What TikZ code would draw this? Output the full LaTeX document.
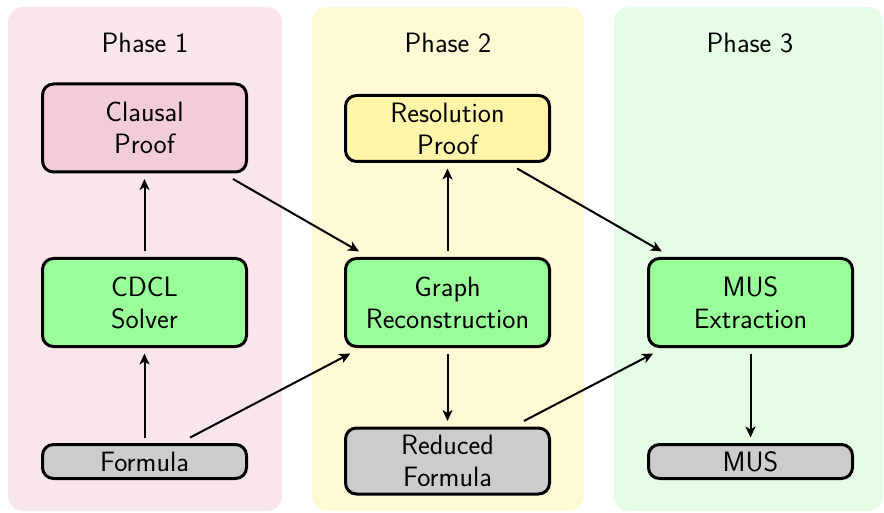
\documentclass[tikz,border=0pt]{standalone}
\usepackage{fontspec}
\usetikzlibrary{arrows.meta}

\definecolor{phaseA}{HTML}{F9E6EC}
\definecolor{phaseB}{HTML}{FFFAD6}
\definecolor{phaseC}{HTML}{E5FDE5}
\definecolor{proofA}{HTML}{F2CCD9}
\definecolor{proofB}{HTML}{FFF6AA}
\definecolor{stepfill}{HTML}{99FF99}
\definecolor{datafill}{HTML}{CCCCCC}

\tikzset{
  panel/.style={rounded corners=15pt, draw=none},
  title/.style={font=\sffamily\fontsize{28}{32}\selectfont},
  box/.style={draw=black, line width=3pt, rounded corners=11pt,
    minimum width=204pt, align=center, inner sep=0pt, outer sep=7pt,
    font=\sffamily\fontsize{28}{32}\selectfont},
  tallbox/.style={box, minimum height=88pt},
  midbox/.style={box, minimum height=66pt},
  flatbox/.style={box, minimum height=34pt},
  flow/.style={line width=2pt, -{Stealth[length=11pt, width=10pt, inset=3pt]}}
}

\begin{document}
\begin{tikzpicture}[x=1pt, y=-1pt]
  \useasboundingbox (0,0) rectangle (884,513);

  % phase panels
  \fill[panel, phaseA] (8,7) rectangle (282,511);
  \fill[panel, phaseB] (312,7) rectangle (584,511);
  \fill[panel, phaseC] (614,7) rectangle (883,511);

  \node[title] (t1) at (145,43) {Phase 1};
  \node[title] (t2) at (448,43) {Phase 2};
  \node[title] (t3) at (750,43) {Phase 3};

  % phase 1
  \node[tallbox, fill=proofA] (clausal) at (144.5,128) {Clausal\\Proof};
  \node[tallbox, fill=stepfill] (cdcl) at (144.5,302.5) {CDCL\\Solver};
  \node[flatbox, fill=datafill] (formula) at (144.5,461.5) {Formula};

  % phase 2
  \node[midbox, fill=proofB] (resolution) at (447.5,128.5) {Resolution\\Proof};
  \node[tallbox, fill=stepfill] (graph) at (447.5,302.5) {Graph\\Reconstruction};
  \node[midbox, fill=datafill] (reduced) at (447.5,461) {Reduced\\Formula};

  % phase 3
  \node[tallbox, fill=stepfill] (muse) at (750.5,302.5) {MUS\\Extraction};
  \node[flatbox, fill=datafill] (mus) at (750.5,461.5) {MUS};

  % connectors
  \draw[flow] (formula) -- (cdcl);
  \draw[flow] (cdcl) -- (clausal);
  \draw[flow] (clausal) -- (graph);
  \draw[flow] (formula) -- (graph);
  \draw[flow] (graph) -- (resolution);
  \draw[flow] (graph) -- (reduced);
  \draw[flow] (resolution) -- (muse);
  \draw[flow] (reduced) -- (muse);
  \draw[flow] (muse) -- (mus);
\end{tikzpicture}
\end{document}
